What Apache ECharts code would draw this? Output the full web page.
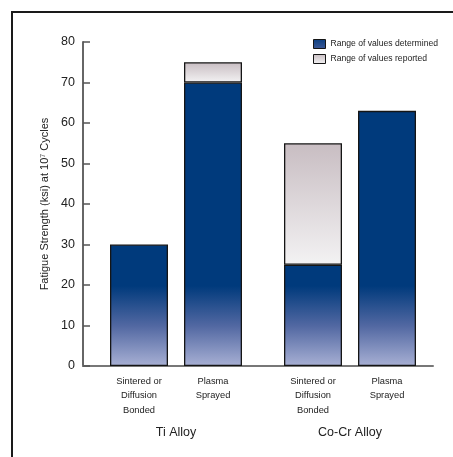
<!DOCTYPE html>
<html>
<head>
<meta charset="utf-8">
<script src="https://cdn.jsdelivr.net/npm/echarts@6/dist/echarts.min.js"></script>
<style>
html,body{margin:0;padding:0;background:#fff;}
#chart{width:453px;height:457px;}
</style>
</head>
<body>
<div id="chart"></div>
<script>
// ---- data ----
var categories = ['Sintered or\nDiffusion\nBonded', 'Plasma\nSprayed'];
var groups = ['Ti Alloy', 'Co-Cr Alloy'];
var tiDetermined = [30, 70];
var tiReportedTop = [null, 75];
var cocrDetermined = [25, 63];
var cocrReportedTop = [55, null];
var yTicks = [0, 10, 20, 30, 40, 50, 60, 70, 80];
var seriesNames = ['Range of values determined', 'Range of values reported'];

var FONT = '"Liberation Sans", Arial, sans-serif';

function increments(det, top) {
  return top.map(function (t, i) { return t == null ? null : t - det[i]; });
}

var detColor = new echarts.graphic.LinearGradient(0, 286, 0, 366, [
  { offset: 0, color: '#003a7c' },
  { offset: 0.5, color: '#5268a2' },
  { offset: 1, color: '#a8b0d4' }
], true);
var repColor = new echarts.graphic.LinearGradient(0, 0, 0, 1, [
  { offset: 0, color: '#c8bdc2' },
  { offset: 1, color: '#f3f2f3' }
]);
var legendDetColor = new echarts.graphic.LinearGradient(0, 0, 0, 1, [
  { offset: 0, color: '#0b3f80' },
  { offset: 1, color: '#3c5896' }
]);

var chart = echarts.init(document.getElementById('chart'), null, { renderer: 'canvas' });

var gridTop = 42, gridBottom = 91;

function groupXAxis(idx, name) {
  return {
    type: 'category', gridIndex: idx, data: categories,
    axisLine: { show: false }, axisTick: { show: false },
    axisLabel: { fontFamily: FONT, fontSize: 9.3, color: '#222', lineHeight: 14.5, margin: 8, interval: 0 },
    name: name, nameLocation: 'middle', nameGap: 60,
    nameTextStyle: { fontFamily: FONT, fontSize: 12.5, color: '#222' }
  };
}
function hiddenY(idx) {
  return { type: 'value', gridIndex: idx, min: yTicks[0], max: yTicks[yTicks.length - 1], show: false };
}
function barSeries(name, xi, data, color, stackName) {
  return {
    type: 'bar', name: name, xAxisIndex: xi, yAxisIndex: xi, stack: stackName,
    data: data, barWidth: 58,
    itemStyle: { color: color, borderColor: '#151515', borderWidth: 1.3 },
    emphasis: { disabled: true }
  };
}

chart.setOption({
  animation: false,
  backgroundColor: '#fff',
  graphic: [{
    type: 'rect', shape: { x: 12, y: 12, width: 470, height: 470 },
    style: { fill: 'none', stroke: '#1a1a1a', lineWidth: 2 }, z: 100
  }],
  legend: {
    orient: 'vertical', left: 313, top: 39, padding: 0,
    itemWidth: 12, itemHeight: 9, itemGap: 5,
    icon: 'rect',
    data: [
      { name: seriesNames[0], itemStyle: { color: legendDetColor, borderColor: '#151515', borderWidth: 1 } },
      { name: seriesNames[1], itemStyle: { color: repColor, borderColor: '#151515', borderWidth: 1 } }
    ],
    textStyle: { fontFamily: FONT, fontSize: 8.6, color: '#222' },
    selectedMode: false
  },
  grid: [
    { left: 83, right: 20, top: gridTop, bottom: gridBottom },
    { left: 102, right: 203, top: gridTop, bottom: gridBottom },
    { left: 276, right: 29, top: gridTop, bottom: gridBottom }
  ],
  xAxis: [
    { type: 'value', gridIndex: 0, min: 0, max: 1,
      axisLine: { show: true, lineStyle: { color: '#777', width: 2 } },
      axisTick: { show: false }, axisLabel: { show: false }, splitLine: { show: false } },
    groupXAxis(1, groups[0]),
    groupXAxis(2, groups[1])
  ],
  yAxis: [
    { type: 'value', gridIndex: 0, min: yTicks[0], max: yTicks[yTicks.length - 1], interval: 10,
      axisLine: { show: true, lineStyle: { color: '#666', width: 2 } },
      axisTick: { show: true, inside: true, length: 7, lineStyle: { color: '#555', width: 1.5 } },
      axisLabel: { fontFamily: FONT, fontSize: 12.5, color: '#222', margin: 8 },
      splitLine: { show: false },
      name: 'Fatigue Strength (ksi) at 10\u2077 Cycles', nameLocation: 'middle', nameGap: 31, nameRotate: 90,
      nameTextStyle: { fontFamily: FONT, fontSize: 11, color: '#222' } },
    hiddenY(1), hiddenY(2)
  ],
  series: [
    barSeries(seriesNames[0], 1, tiDetermined, detColor, 'ti'),
    barSeries(seriesNames[1], 1, increments(tiDetermined, tiReportedTop), repColor, 'ti'),
    barSeries(seriesNames[0], 2, cocrDetermined, detColor, 'cocr'),
    barSeries(seriesNames[1], 2, increments(cocrDetermined, cocrReportedTop), repColor, 'cocr')
  ]
});
</script>
</body>
</html>
